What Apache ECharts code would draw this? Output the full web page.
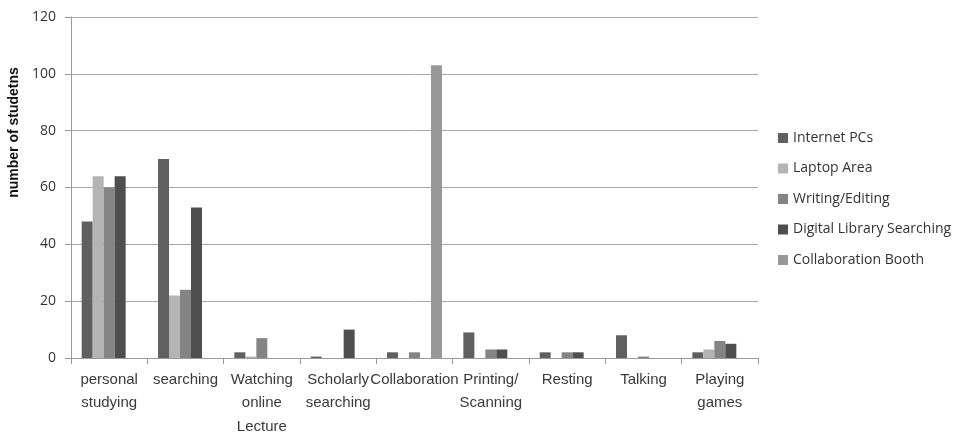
<!DOCTYPE html>
<html>
<head>
<meta charset="utf-8">
<script src="https://cdn.jsdelivr.net/npm/echarts@6/dist/echarts.min.js"></script>
<style>html,body{margin:0;padding:0;background:#fff}#c{width:959px;height:437px}</style>
</head>
<body>
<div id="c"></div>
<script>
const categories = ["personal studying", "searching", "Watching online Lecture", "Scholarly searching", "Collaboration", "Printing/ Scanning", "Resting", "Talking", "Playing games"];
const seriesNames = ["Internet PCs", "Laptop Area", "Writing/Editing", "Digital Library Searching", "Collaboration Booth"];
const internetPCs = [48, 70, 2, 0.5, 2, 9, 2, 8, 2];
const laptopArea = [64, 22, 0.5, 0, 0, 0, 0, 0, 3];
const writingEditing = [60, 24, 7, 0, 2, 3, 2, 0.5, 6];
const digitalLibrary = [64, 53, 0, 10, 0, 3, 2, 0, 5];
const collaborationBooth = [0, 0, 0, 0, 103, 0, 0, 0, 0];
const yTicks = [0, 20, 40, 60, 80, 100, 120];

const colors = ["#606060", "#b4b4b4", "#848484", "#4e4e4e", "#989898"];
const values = [internetPCs, laptopArea, writingEditing, digitalLibrary, collaborationBooth];

const chart = echarts.init(document.getElementById('c'), null, {renderer: 'canvas'});
chart.setOption({
  animation: false,
  backgroundColor: '#ffffff',
  grid: {left: 71, right: 201, top: 17, bottom: 79, containLabel: false, outerBoundsMode: 'none'},
  legend: {
    orient: 'vertical', left: 773, top: 126,
    itemWidth: 10, itemHeight: 10, itemGap: 16.5,
    icon: 'rect',
    textStyle: {fontFamily: 'Open Sans', fontSize: 14, color: '#333', lineHeight: 14},
    data: seriesNames
  },
  xAxis: {
    type: 'category',
    data: categories,
    axisLine: {lineStyle: {color: '#9a9a9a', width: 1}},
    axisTick: {show: true, length: 6, lineStyle: {color: '#9a9a9a'}, alignWithLabel: false},
    axisLabel: {
      interval: 0, margin: 10,
      fontFamily: 'Liberation Sans', fontSize: 15, color: '#3a3a3a', lineHeight: 23.5,
      formatter: v => v.split(' ').join('\n')
    }
  },
  yAxis: {
    type: 'value', min: yTicks[0], max: yTicks[yTicks.length - 1], interval: 20,
    name: 'number of studetns',
    nameLocation: 'middle', nameGap: 44, nameRotate: 90,
    nameTextStyle: {fontFamily: 'Liberation Sans', fontSize: 14, fontWeight: 'bold', color: '#111', padding: [0, 0, 0, 110]},
    axisLine: {show: true, lineStyle: {color: '#9a9a9a', width: 1}},
    axisTick: {show: true, length: 6, lineStyle: {color: '#9a9a9a'}},
    axisLabel: {margin: 15, fontFamily: 'Open Sans', fontSize: 14, color: '#333'},
    splitLine: {show: true, lineStyle: {color: '#a8a8a8', width: 1}}
  },
  series: seriesNames.map((n, i) => ({
    name: n, type: 'bar', data: values[i],
    barGap: '0%', barCategoryGap: '28%',
    itemStyle: {color: colors[i]}
  }))
});
</script>
</body>
</html>
